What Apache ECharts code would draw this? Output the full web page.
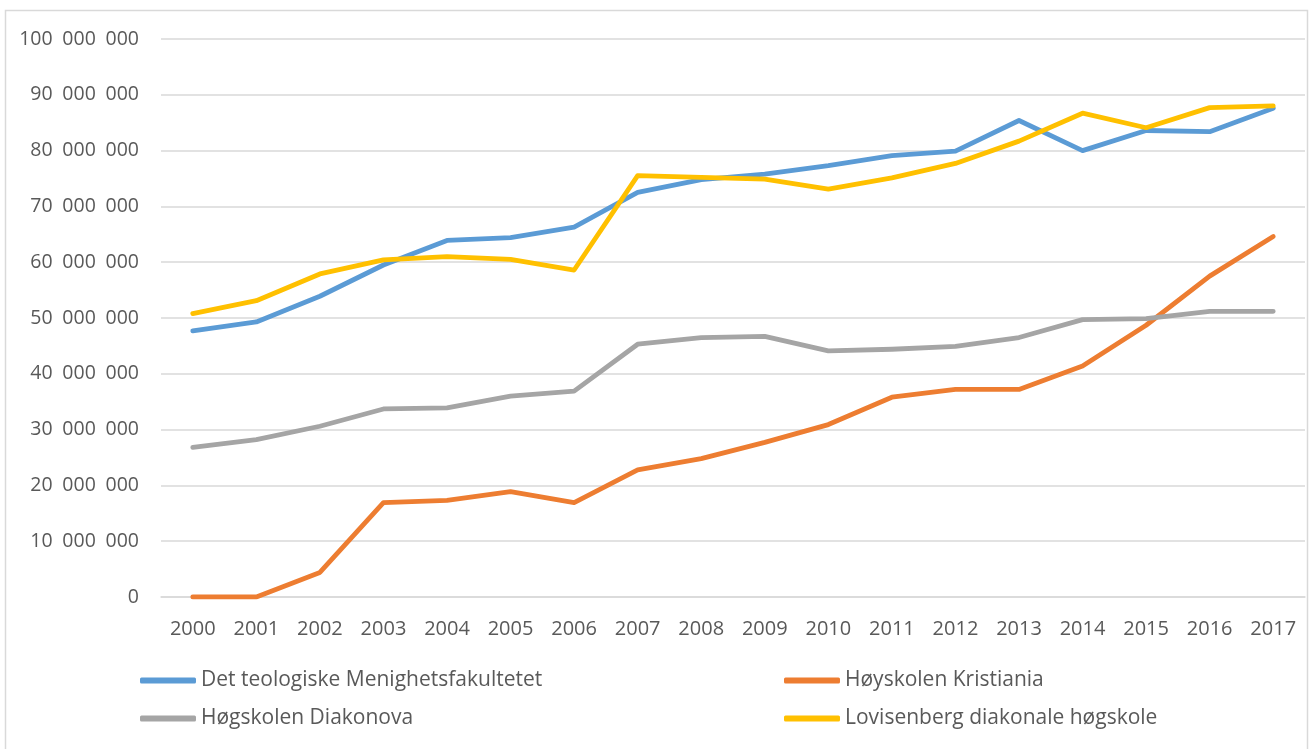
<!DOCTYPE html>
<html>
<head>
<meta charset="utf-8">
<script src="https://cdn.jsdelivr.net/npm/echarts@6/dist/echarts.min.js"></script>
<style>
  html, body { margin: 0; padding: 0; background: #fff; }
  #main { width: 1314px; height: 749px; }
</style>
</head>
<body>
<div id="main"></div>
<script>
var years = ['2000', '2001', '2002', '2003', '2004', '2005', '2006', '2007', '2008',
    '2009', '2010', '2011', '2012', '2013', '2014', '2015', '2016', '2017'];

// values in kroner
var mfValues = [47700000, 49300000, 53900000, 59500000, 63900000, 64400000, 66300000, 72500000, 74800000,
    75800000, 77300000, 79100000, 79900000, 85400000, 80000000, 83600000, 83400000, 87600000];
var kristianiaValues = [0, 0, 4400000, 16900000, 17300000, 18900000, 16900000, 22800000, 24800000,
    27700000, 30900000, 35800000, 37200000, 37200000, 41400000, 48700000, 57500000, 64600000];
var diakonovaValues = [26800000, 28200000, 30600000, 33700000, 33900000, 36000000, 36900000, 45300000, 46500000,
    46700000, 44100000, 44400000, 44900000, 46500000, 49700000, 49900000, 51200000, 51200000];
var lovisenbergValues = [50800000, 53100000, 57900000, 60400000, 61000000, 60500000, 58600000, 75500000, 75200000,
    74900000, 73100000, 75100000, 77700000, 81700000, 86700000, 84100000, 87700000, 88000000];

var seriesNames = ['Det teologiske Menighetsfakultetet', 'Høyskolen Kristiania',
    'Høgskolen Diakonova', 'Lovisenberg diakonale høgskole'];

var chart = echarts.init(document.getElementById('main'));

function fmt(v) {
    // Norwegian style thousands separator
    return String(v).replace(/\B(?=(\d{3})+(?!\d))/g, '\u2002');
}

function line(name, data, color) {
    return {
        name: name,
        type: 'line',
        data: data,
        symbol: 'none',
        color: color,
        lineStyle: { width: 4.8, color: color, cap: 'round', join: 'round' },
        emphasis: { disabled: true },
        animation: false
    };
}

var legendCommon = {
    orient: 'vertical',
    top: 670,
    padding: 0,
    itemWidth: 56,
    itemHeight: 6,
    itemGap: 17,
    icon: 'roundRect',
    selectedMode: false,
    textStyle: { fontFamily: 'Open Sans', fontSize: 21, color: '#595959' }
};

chart.setOption({
    backgroundColor: '#fff',
    textStyle: { fontFamily: 'Open Sans' },
    graphic: [{
        type: 'rect',
        shape: { x: 5.5, y: 10.5, width: 1302, height: 800 },
        style: { fill: 'none', stroke: '#d9d9d9', lineWidth: 1.5 },
        silent: true
    }],
    grid: { left: 161, right: 9, top: 39, bottom: 152 },
    legend: [
        Object.assign({ left: 140, data: [seriesNames[0], seriesNames[2]] }, legendCommon),
        Object.assign({ left: 784, data: [seriesNames[1], seriesNames[3]] }, legendCommon)
    ],
    xAxis: {
        type: 'category',
        data: years,
        boundaryGap: true,
        axisLine: { show: true, lineStyle: { color: '#d9d9d9', width: 1.5 } },
        axisTick: { show: false },
        axisLabel: { color: '#595959', fontFamily: 'Open Sans', fontSize: 20, margin: 22, interval: 0 }
    },
    yAxis: {
        type: 'value',
        min: 0,
        max: 100000000,
        interval: 10000000,
        axisLine: { show: false },
        axisTick: { show: false },
        splitLine: { lineStyle: { color: '#d9d9d9', width: 1.5 } },
        axisLabel: {
            color: '#595959', fontFamily: 'Open Sans', fontSize: 19.5, margin: 22,
            formatter: function (v) { return fmt(v); }
        }
    },
    series: [
        line(seriesNames[0], mfValues, '#5b9bd5'),
        line(seriesNames[1], kristianiaValues, '#ed7d31'),
        line(seriesNames[2], diakonovaValues, '#a5a5a5'),
        line(seriesNames[3], lovisenbergValues, '#ffc000')
    ]
});
</script>
</body>
</html>
